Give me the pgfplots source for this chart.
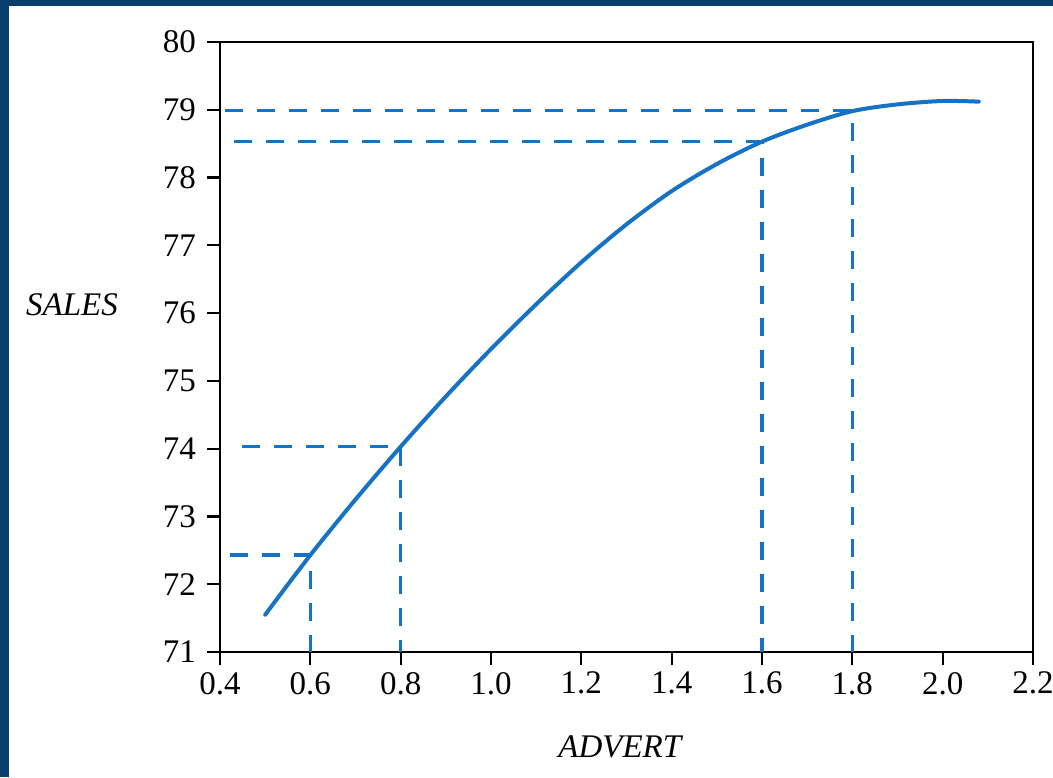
\documentclass[border=0pt]{standalone}
\usepackage{pgfplots}
\pgfplotsset{compat=1.18}
\usepackage{fontspec}
\setmainfont{Liberation Serif}
\definecolor{curveblue}{RGB}{22,114,196}
\definecolor{framenavy}{RGB}{8,62,110}
\begin{document}
\begin{tikzpicture}
\useasboundingbox (0,0) rectangle (526.5pt,388.5pt);
\fill[framenavy] (0,385.5pt) rectangle (526.5pt,388.5pt);
\fill[framenavy] (0,0) rectangle (4.5pt,388.5pt);
\begin{axis}[
    at={(110pt,62.5pt)}, anchor=south west,
    scale only axis,
    width=406.5pt, height=305pt,
    xmin=0.4, xmax=2.2, ymin=71, ymax=80,
    xtick={0.4,0.6,...,2.2},
    ytick={71,72,...,80},
    xticklabel style={/pgf/number format/.cd, fixed, fixed zerofill, precision=1},
    yticklabel style={xshift=-2pt},
    xtick pos=bottom, ytick pos=left,
    tick align=outside,
    major tick length=6.5pt,
    tick style={black, line width=1.1pt},
    axis line style={black, line width=1.1pt},
    /pgf/number format/assume math mode=true,
    font=\fontsize{16.5}{19}\selectfont,
    xlabel={\textit{ADVERT}},
    ylabel={\textit{SALES}},
    every axis x label/.style={at={(axis description cs:0.493,-0.156)}, anchor=center},
    every axis y label/.style={at={(axis description cs:-0.182,0.57)}, anchor=center},
    clip=false,
]
% guide lines
\addplot[curveblue, line width=1.6pt, dash pattern=on 9pt off 7pt] coordinates {(0.422,72.43) (0.6,72.43) (0.6,71)};
\addplot[curveblue, line width=1.6pt, dash pattern=on 9pt off 7pt] coordinates {(0.449,74.03) (0.8,74.03) (0.8,71)};
\addplot[curveblue, line width=1.6pt, dash pattern=on 9pt off 7pt] coordinates {(0.431,78.53) (1.6,78.53) (1.6,71)};
\addplot[curveblue, line width=1.6pt, dash pattern=on 9pt off 7pt] coordinates {(0.411,78.99) (1.8,78.99) (1.8,71)};
% fitted curve
\addplot[curveblue, line width=2pt, smooth, line cap=round] coordinates {
    (0.50,71.55) (0.6,72.43) (0.7,73.25) (0.8,74.03) (0.9,74.77)
    (1.0,75.47) (1.1,76.13) (1.2,76.75) (1.3,77.31) (1.4,77.80)
    (1.5,78.20) (1.6,78.53) (1.7,78.78) (1.8,78.98) (1.9,79.08)
    (2.0,79.13) (2.08,79.12)};
\end{axis}
\end{tikzpicture}
\end{document}
